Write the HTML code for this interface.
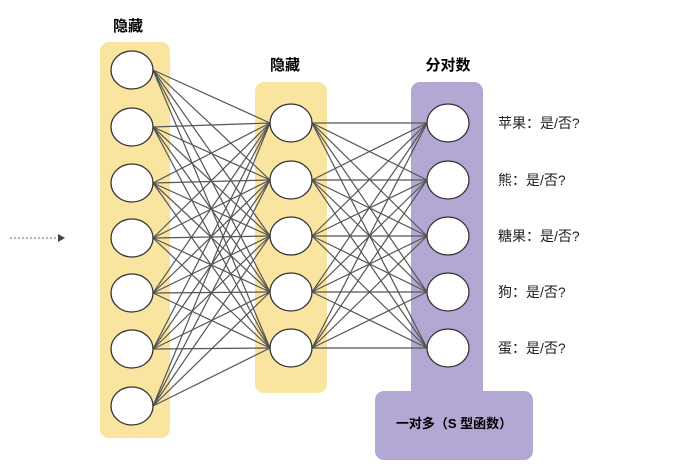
<!DOCTYPE html>
<html><head><meta charset="utf-8"><style>
body{margin:0;background:#fff;}
svg text{font-family:"Liberation Sans","Noto Sans CJK SC",sans-serif;}
</style></head><body>
<svg width="680" height="468" viewBox="0 0 680 468" xmlns="http://www.w3.org/2000/svg">
<rect x="100" y="42" width="70" height="396" rx="9" fill="#f9e4a0"/>
<rect x="255" y="82" width="72" height="311" rx="9" fill="#f9e4a0"/>
<rect x="411" y="82" width="72" height="318" rx="9" fill="#b3a8d4"/>
<rect x="375" y="391" width="158" height="69" rx="9" fill="#b3a8d4"/>
<text x="128" y="31" font-size="15" font-weight="bold" text-anchor="middle">隐藏</text>
<text x="285" y="70" font-size="15" font-weight="bold" text-anchor="middle">隐藏</text>
<text x="448" y="70" font-size="15" font-weight="bold" text-anchor="middle">分对数</text>
<text x="454" y="428" font-size="13" font-weight="bold" text-anchor="middle">一对多（S 型函数）</text>
<g font-size="14" fill="#222">
<text x="498" y="128">苹果：是/否?</text>
<text x="498" y="185">熊：是/否?</text>
<text x="498" y="241">糖果：是/否?</text>
<text x="498" y="297">狗：是/否?</text>
<text x="498" y="353">蛋：是/否?</text>
</g>
<line x1="10" y1="238" x2="60" y2="238" stroke="#999" stroke-width="1.5" stroke-dasharray="2,2"/>
<path d="M58 234 L65 238 L58 242 Z" fill="#444"/>
<g id="lines" stroke="#555" stroke-width="1.2"></g>
<g id="nodes" fill="#fff" stroke="#333" stroke-width="1.3"></g>
<script>
var L=[70,127,183,238,293,349,406],M=[123,180,236,292,348];
var g=document.getElementById('lines'),n=document.getElementById('nodes'),ns='http://www.w3.org/2000/svg';
function ln(a,b,c,d){var e=document.createElementNS(ns,'line');e.setAttribute('x1',a);e.setAttribute('y1',b);e.setAttribute('x2',c);e.setAttribute('y2',d);g.appendChild(e);}
function el(x,y){var e=document.createElementNS(ns,'ellipse');e.setAttribute('cx',x);e.setAttribute('cy',y);e.setAttribute('rx',21);e.setAttribute('ry',19);n.appendChild(e);}
L.forEach(function(a){M.forEach(function(b){ln(153,a,270,b);});});
M.forEach(function(a){M.forEach(function(b){ln(312,a,427,b);});});
L.forEach(function(a){el(132,a);});
M.forEach(function(a){el(291,a);el(448,a);});
</script>
</svg>
</body></html>
